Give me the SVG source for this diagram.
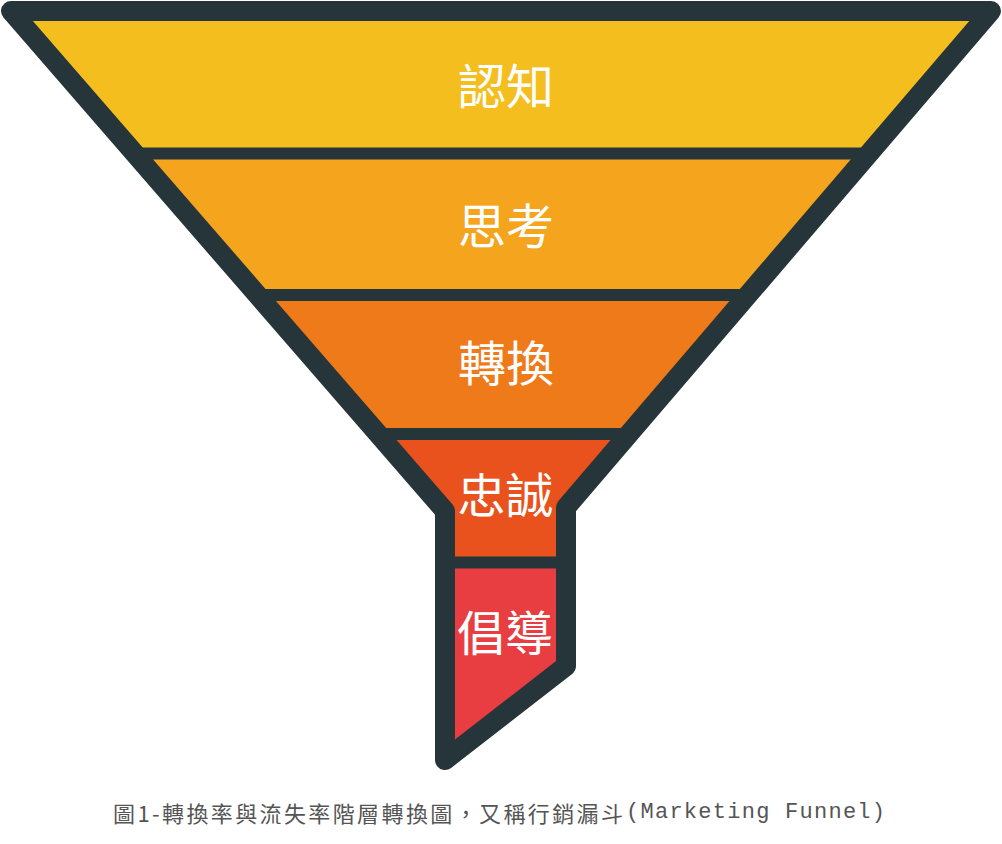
<svg xmlns="http://www.w3.org/2000/svg" width="1002" height="844" viewBox="0 0 1002 844">
  <style>
    .label { font-family: "Noto Sans CJK TC", "Noto Sans CJK SC", sans-serif; font-size: 48px; fill: #ffffff; text-anchor: middle; dominant-baseline: central; }
    .frame { fill: none; stroke: #263539; stroke-width: 20; stroke-linejoin: round; stroke-linecap: round; }
    .divider { stroke: #263539; stroke-width: 12; stroke-linecap: butt; }
    .caption { font-family: "Noto Sans CJK TC", "Noto Sans CJK SC", sans-serif; font-size: 22px; fill: #555555; dominant-baseline: central; }
    .caption-latin { font-family: "Liberation Mono", "DejaVu Sans Mono", monospace; }
  </style>
  <rect width="1002" height="844" fill="#ffffff"/>

  <g id="stage-awareness">
    <polygon points="11,11 991,11 869,153.5 134.7,153.5" fill="#F4BE1E"/>
    <text class="label" x="506" y="83">認知</text>
  </g>
  <g id="stage-consideration">
    <polygon points="134.7,153.5 869,153.5 747.9,295 257.5,295" fill="#F5A41E"/>
    <text class="label" x="506" y="223">思考</text>
  </g>
  <g id="stage-conversion">
    <polygon points="257.5,295 747.9,295 628.9,434 378.2,434" fill="#EE7A1A"/>
    <text class="label" x="506" y="360">轉換</text>
  </g>
  <g id="stage-loyalty">
    <polygon points="378.2,434 628.9,434 566,507.5 566,562.5 445,562.5 445,511" fill="#E9511D"/>
    <text class="label" x="505.5" y="492">忠誠</text>
  </g>
  <g id="stage-advocacy">
    <polygon points="445,562.5 566,562.5 566,666 445,760" fill="#E83E42"/>
    <text class="label" x="505" y="630">倡導</text>
  </g>

  <g id="connectors">
    <line class="divider" x1="134.7" y1="153.5" x2="869" y2="153.5"/>
    <line class="divider" x1="257.5" y1="295" x2="747.9" y2="295"/>
    <line class="divider" x1="378.2" y1="434" x2="628.9" y2="434"/>
    <line class="divider" x1="445" y1="562.5" x2="566" y2="562.5"/>
    <path class="frame" d="M11,11 L991,11 L566,507.5 L566,666 L445,760 L445,511 Z"/>
  </g>

  <g id="caption">
    <text class="caption" x="113" y="812" textLength="510" lengthAdjust="spacing">圖1-轉換率與流失率階層轉換圖，又稱行銷漏斗</text>
    <text class="caption caption-latin" x="626" y="812" textLength="259" lengthAdjust="spacing">(Marketing Funnel)</text>
  </g>
</svg>
